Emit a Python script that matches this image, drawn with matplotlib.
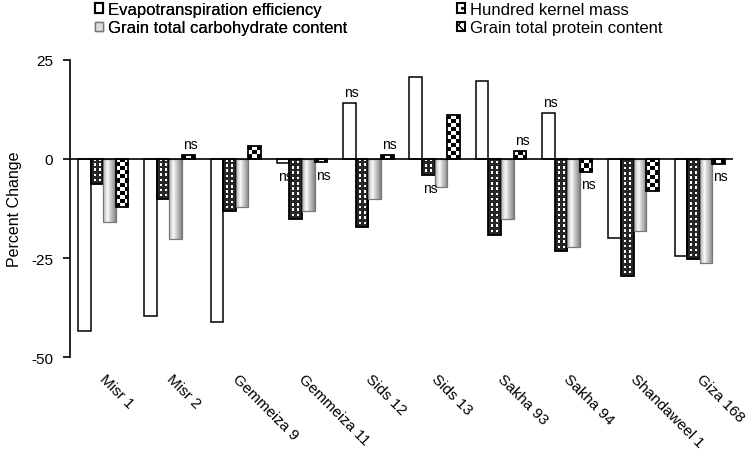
import numpy as np
import matplotlib
matplotlib.use('Agg')
import matplotlib.pyplot as plt
from matplotlib.patches import Patch
from matplotlib.transforms import blended_transform_factory, offset_copy

plt.rcParams['font.family'] = ['Liberation Sans', 'DejaVu Sans']
plt.rcParams['axes.unicode_minus'] = False
plt.rcParams['hatch.linewidth'] = 1.0

cultivars = ['Misr 1', 'Misr 2', 'Gemmeiza 9', 'Gemmeiza 11', 'Sids 12', 'Sids 13',
             'Sakha 93', 'Sakha 94', 'Shandaweel 1', 'Giza 168']
series_names = ['Evapotranspiration efficiency', 'Hundred kernel mass',
                'Grain total carbohydrate content', 'Grain total protein content']
evapo = [-43.4, -39.5, -41.0, -1.1, 14.1, 20.6, 19.7, 11.5, -19.9, -24.5]
hkm = [-6.4, -10.2, -13.1, -15.2, -17.2, -4.1, -19.3, -23.2, -29.4, -25.3]
carb = [-16.0, -20.1, -12.1, -13.1, -10.0, -7.1, -15.2, -22.2, -18.2, -26.2]
prot = [-12.1, 1.0, 3.3, -0.9, 0.9, 11.0, 2.0, -3.2, -8.2, -1.2]
ns_evapo = [0, 0, 0, 1, 1, 0, 0, 1, 0, 0]
ns_hkm = [0, 0, 0, 0, 0, 1, 0, 0, 0, 0]
ns_carb = [0, 0, 0, 0, 0, 0, 0, 0, 0, 0]
ns_prot = [0, 1, 0, 1, 1, 0, 1, 1, 0, 1]
yticks = [25, 0, -25, -50]

series = [evapo, hkm, carb, prot]
ns_flags = [ns_evapo, ns_hkm, ns_carb, ns_prot]

W, H = 749, 452
fig = plt.figure(figsize=(W / 100, H / 100), dpi=100)
ax = fig.add_axes([70 / W, 1 - 358.3 / H, (733 - 70) / W, (358.3 - 60.7) / H])

x = np.arange(len(cultivars))
bw = 0.19
offsets = (np.arange(4) - 1.5) * bw

XLIM = (-0.5, len(cultivars) - 0.5)
YLIM = (-50, 25)


def pattern_hkm(ny, nx):
    img = np.full((ny, nx), 0.15)
    img[1::2, 1::2] = 1.0
    return img


def pattern_check(ny, nx):
    yy, xx = np.mgrid[0:ny, 0:nx]
    return ((yy + xx) % 2).astype(float)


for si, vals in enumerate(series):
    if si == 0:
        ax.bar(x + offsets[si], vals, bw, facecolor='white', edgecolor='black',
               linewidth=1.1, zorder=3)
        continue
    if si == 2:
        bars = ax.bar(x + offsets[si], vals, bw, facecolor='none', edgecolor='#777777',
                      linewidth=0.9, zorder=3)
    else:
        bars = ax.bar(x + offsets[si], vals, bw, facecolor='none', edgecolor='black',
                      linewidth=1.3, zorder=3)
    for b in bars:
        x0 = b.get_x()
        x1 = x0 + b.get_width()
        y0 = b.get_y()
        y1 = y0 + b.get_height()
        ylo, yhi = min(y0, y1), max(y0, y1)
        hpx = (yhi - ylo) * 3.96
        if si == 1:
            ny = max(int(round(hpx / 2.6)), 1)
            img = pattern_hkm(ny, 5)
        elif si == 3:
            ny = max(int(round(hpx / 4.0)), 1)
            img = pattern_check(ny, 3)
        else:
            t = np.linspace(0, 1, 40)
            prof = 0.97 - 0.45 * np.abs(t - 0.35) / 0.65
            prof = np.clip(prof, 0.5, 1.0)
            img = np.tile(prof, (2, 1))
        im = ax.imshow(img, extent=[x0, x1, ylo, yhi], origin='lower', cmap='gray',
                       vmin=0, vmax=1, aspect='auto', interpolation='nearest', zorder=2)
        im.set_clip_path(b)

# ns annotations
for si, vals in enumerate(series):
    for ci, v in enumerate(vals):
        if ns_flags[si][ci]:
            xc = x[ci] + offsets[si]
            if v >= 0:
                ax.annotate('ns', (xc, v), xytext=(1.5, 3), textcoords='offset points',
                            ha='center', va='bottom', fontsize=10, zorder=5)
            else:
                ax.annotate('ns', (xc, v), xytext=(1.5, -4), textcoords='offset points',
                            ha='center', va='top', fontsize=10, zorder=5)

ax.set_xlim(*XLIM)
ax.set_ylim(*YLIM)
ax.axhline(0, color='black', linewidth=1.2, zorder=4)

for s in ['top', 'right', 'bottom']:
    ax.spines[s].set_visible(False)
ax.spines['left'].set_linewidth(1.2)
ax.set_yticks(yticks)
ax.set_yticklabels([str(t) for t in yticks], fontsize=11)
ax.tick_params(axis='y', direction='out', length=5, width=1.2, pad=7)
ax.set_xticks([])
ax.set_ylabel('Percent Change', fontsize=11.5, labelpad=7)

trans = blended_transform_factory(ax.transData, ax.transAxes)
trans = offset_copy(trans, fig=fig, x=4, y=-14, units='dots')
for ci, name in enumerate(cultivars):
    ax.text(x[ci], 0, name, transform=trans, rotation=-45, rotation_mode='anchor',
            ha='left', va='top', fontsize=11)

handles = [
    Patch(facecolor='white', edgecolor='black', linewidth=1.5),
    Patch(facecolor='#dddddd', edgecolor='#777777', linewidth=1.0),
    Patch(facecolor='white', edgecolor='black', linewidth=1.5, hatch='..'),
    Patch(facecolor='white', edgecolor='black', linewidth=1.5, hatch='xx'),
]
labels = [series_names[0], series_names[2], series_names[1], series_names[3]]
common = dict(loc='upper left', frameon=False, handlelength=0.5, handleheight=0.5,
              handletextpad=0.3, labelspacing=0.2, borderpad=0, borderaxespad=0,
              prop={'family': 'Liberation Sans', 'size': 12})
leg1 = fig.legend(handles[:2], labels[:2], bbox_to_anchor=(95 / W, 1 - 3 / H), **common)
fig.add_artist(leg1)
fig.legend(handles[2:], labels[2:], bbox_to_anchor=(457 / W, 1 - 3 / H), **common)

fig.savefig('out.png', dpi=100)
